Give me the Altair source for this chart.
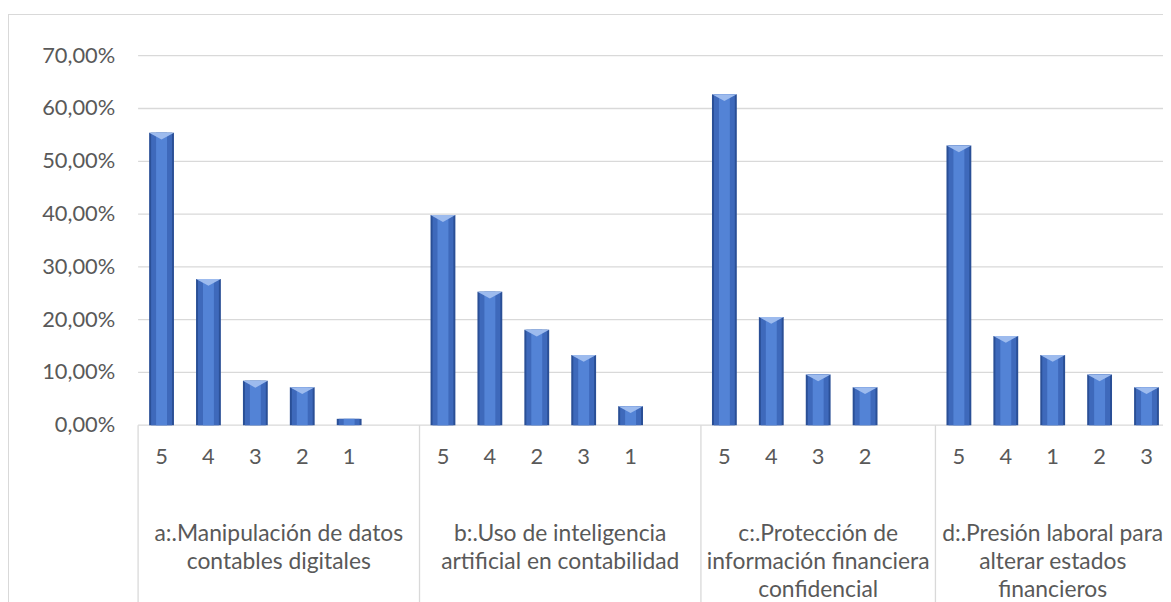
import altair as alt
import pandas as pd

# ---- data ----
group_names = [
    "a:.Manipulación de datos\ncontables digitales",
    "b:.Uso de inteligencia\nartificial en contabilidad",
    "c:.Protección de\ninformación financiera\nconfidencial",
    "d:.Presión laboral para\nalterar estados\nfinancieros",
]
ratings_a = ["5", "4", "3", "2", "1", ""]
values_a = [0.554, 0.277, 0.084, 0.072, 0.012, None]
ratings_b = ["5", "4", "2", "3", "1", ""]
values_b = [0.398, 0.253, 0.181, 0.133, 0.036, None]
ratings_c = ["5", "4", "3", "2", ""]
values_c = [0.627, 0.205, 0.096, 0.072, None]
ratings_d = ["5", "4", "1", "2", "3"]
values_d = [0.530, 0.169, 0.133, 0.096, 0.072]
y_ticks = [0.0, 0.1, 0.2, 0.3, 0.4, 0.5, 0.6, 0.7]
y_tick_labels = [f"{t * 100:.2f}%".replace(".", ",") for t in y_ticks]

groups = [(group_names[0], ratings_a, values_a),
          (group_names[1], ratings_b, values_b),
          (group_names[2], ratings_c, values_c),
          (group_names[3], ratings_d, values_d)]

rows, seps, grp = [], [], []
slot = 0
for name, rats, vals in groups:
    start = slot
    seps.append({"b": start})
    for r, v in zip(rats, vals):
        rows.append({"pos": slot + 0.5, "rating": r,
                     "value": (-1.0 if v is None else v)})
        slot += 1
    grp.append({"center": (start + slot) / 2, "name": name})
seps.append({"b": slot})
n_slots = slot

df = pd.DataFrame(rows)
bars_df = df[df["value"] >= 0].copy()
labels_df = df[df["rating"] != ""].copy()
sep_df = pd.DataFrame(seps)
grp_df = pd.DataFrame(grp)
ytick_df = pd.DataFrame({"t": y_ticks, "label": y_tick_labels})

FONT = "Lato"
FS = 22
TXT = "#595959"
GRID = "#d9d9d9"

# the plot area runs a few pixels past the right edge of the picture (cropped)
VIEW_W, VIEW_H = 1039, 372
xs = alt.Scale(domain=[0, n_slots], nice=False, zero=False, padding=0)
ys = alt.Scale(domain=[0, 0.7], nice=False, padding=0)


def X(field):
    return alt.X(field, scale=xs, axis=None)


def Y(field):
    return alt.Y(field, scale=ys, axis=None)


grid = alt.Chart(ytick_df).mark_rule(color=GRID, strokeWidth=1.3).encode(
    y=Y("t:Q"), x=alt.value(0), x2=alt.value(VIEW_W))
ylabels = alt.Chart(ytick_df).mark_text(
    font=FONT, fontSize=FS, color=TXT, align="right", baseline="middle"
).encode(y=Y("t:Q"), x=alt.value(-23), text="label:N")

bars_dark = alt.Chart(bars_df).mark_bar(orient="vertical", size=25, color="#2a4f96").encode(
    x=X("pos:Q"), y=Y("value:Q"))
bars_mid = alt.Chart(bars_df).mark_bar(orient="vertical", size=21, color="#3e69bb").encode(
    x=X("pos:Q"), y=Y("value:Q"))
bars_light = alt.Chart(bars_df).mark_bar(orient="vertical", size=11, color="#5383d6").encode(
    x=X("pos:Q"), y=Y("value:Q"))

bevel = alt.Chart(bars_df).transform_filter("datum.value > 0.02").mark_point(
    shape="M-1,0L1,0L0,0.55Z", size=625, filled=True, fill="#9dbbee",
    strokeWidth=0, opacity=1,
).encode(x=X("pos:Q"), y=Y("value:Q"))

tick_labels = alt.Chart(labels_df).mark_text(
    font=FONT, fontSize=FS, color=TXT, baseline="middle", align="center"
).encode(x=X("pos:Q"), y=alt.value(404), text="rating:N")

separators = alt.Chart(sep_df).mark_rule(color=GRID, strokeWidth=1.3).encode(
    x=X("b:Q"), y=alt.value(VIEW_H), y2=alt.value(600))

group_labels = alt.Chart(grp_df).mark_text(
    font=FONT, fontSize=23, color=TXT, baseline="top", align="center",
    lineBreak="\n", lineHeight=28,
).encode(x=X("center:Q"), y=alt.value(471), text="name:N")

border_left = alt.Chart(sep_df).mark_rule(color=GRID, strokeWidth=1).encode(
    x=alt.value(-130.5), y=alt.value(-41.5), y2=alt.value(600))
border_top = alt.Chart(sep_df).mark_rule(color=GRID, strokeWidth=1).encode(
    x=alt.value(-130.5), x2=alt.value(VIEW_W), y=alt.value(-41.5))

chart = alt.layer(
    border_left, border_top, grid, ylabels, separators, bars_dark, bars_mid, bars_light,
    bevel, tick_labels, group_labels
).properties(
    width=VIEW_W, height=VIEW_H,
    padding={"left": 131, "top": 46, "right": -7, "bottom": 176},
    autosize=alt.AutoSizeParams(type="none"),
).configure_view(strokeWidth=0)

chart.save("out.html", embed_options={"renderer": "svg", "actions": False})
